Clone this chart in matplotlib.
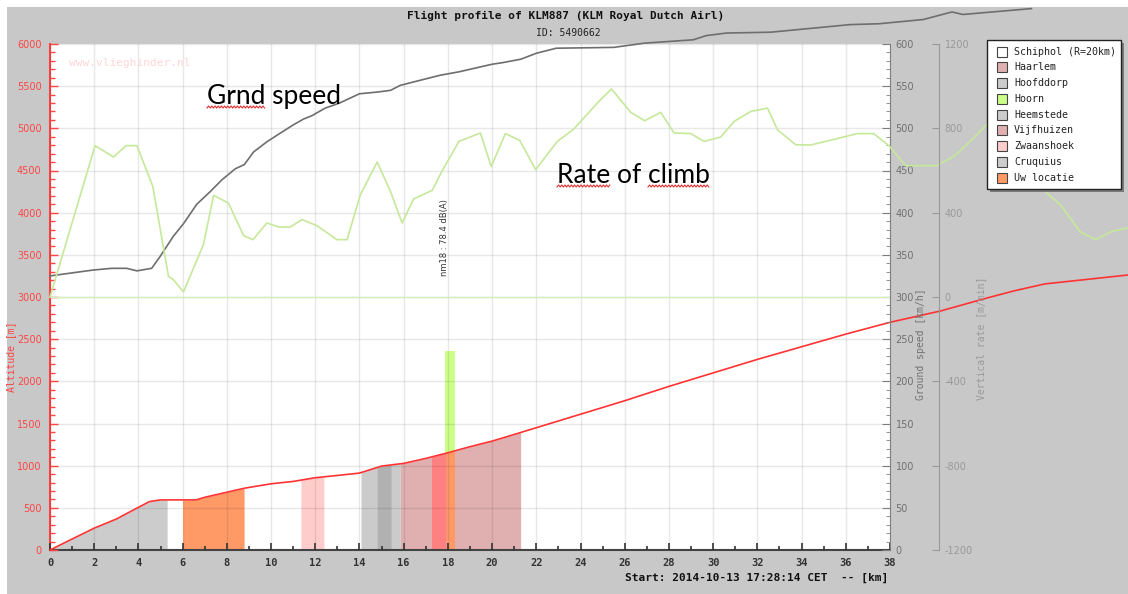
import numpy as np
import matplotlib.pyplot as plt
from matplotlib.patches import Rectangle
from matplotlib.lines import Line2D
from matplotlib.ticker import MultipleLocator

plt.rcParams['axes.unicode_minus'] = False

W, H = 1128, 594

# altitude profile, distance [km] / altitude [m]
alt_km = [0, 1, 2, 3, 4, 4.5, 5, 6.6, 7, 8, 8.8, 10, 11, 12, 13, 14, 15, 16, 17,
          18, 19, 20, 21, 22, 24, 26, 28, 30, 32, 34, 36, 38, 40.3, 42.4, 43.6,
          45, 48.8]
alt_m = [0, 130, 259, 367, 506, 574, 594, 594, 625, 685, 733, 785, 813, 857, 884,
         912, 995, 1027, 1086, 1153, 1225, 1291, 1370, 1450, 1610, 1770, 1940,
         2100, 2260, 2410, 2560, 2700, 2835, 2989, 3072, 3155, 3262]

# ground speed, distance [km] / speed [km/h]
gs_km = [0, 1.96, 2.8, 3.47, 3.93, 4.6, 4.98, 5.58, 6.04, 6.64, 7.25, 7.78, 8.38,
         8.79, 9.21, 9.81, 10.4, 11.0, 11.47, 11.85, 12.45, 13.1, 14.0, 14.8, 15.4,
         15.85, 16.9, 17.66, 18.5, 20.0, 20.5, 21.3, 22.0, 22.9, 25.5, 26.9, 29.1,
         29.7, 30.6, 32.6, 34.6, 36.2, 37.5, 39.5, 40.8, 41.3, 44.4]
gs_kmh = [325, 332, 334, 334, 331, 334, 348, 372, 387, 410, 425, 439, 452, 457, 472,
          484, 494, 504, 511, 515, 524, 530, 541, 543, 545, 551, 558, 563, 567, 576,
          578, 582, 589, 595, 596, 601, 605, 610, 613, 614, 619, 623, 624, 629, 638,
          635, 642]

# vertical rate, distance [km] / rate [m/min]
vr_km = [0, 2.04, 2.87, 3.44, 3.93, 4.65, 5.36, 5.58, 6.04, 6.94, 7.4, 8.07, 8.76,
         9.18, 9.81, 10.34, 10.87, 11.4, 12.08, 12.98, 13.44, 14.04, 14.8, 15.4,
         15.93, 16.45, 17.29, 17.75, 18.5, 19.47, 19.96, 20.6, 21.25, 21.97, 22.95,
         23.7, 24.76, 25.4, 26.27, 26.9, 27.63, 28.23, 28.99, 29.59, 30.34, 30.95,
         31.7, 32.46, 32.91, 33.74, 34.42, 36.53, 37.26, 37.97, 38.7, 40.1, 40.9,
         41.7, 42.4, 43.2, 44.2, 45.1, 45.7, 46.6, 47.3, 48.0, 48.8]
vr_mmin = [0, 718, 664, 718, 718, 525, 98, 82, 24, 248, 482, 446, 291, 272, 351, 332,
           332, 367, 338, 272, 272, 485, 640, 501, 351, 465, 506, 600, 738, 778, 619,
           775, 743, 604, 738, 797, 920, 987, 876, 836, 876, 778, 775, 738, 759, 833,
           880, 896, 793, 722, 721, 775, 775, 716, 623, 623, 667, 746, 820, 880, 650,
           493, 438, 310, 272, 310, 329]

# zones passed under the profile
zone_start = [0, 6.0, 11.35, 14.07, 14.8, 15.85, 17.26, 17.92]
zone_end = [5.3, 8.78, 12.39, 15.43, 15.85, 21.29, 17.92, 18.3]
zone_colors = ['#cccccc', '#ff9966', '#ffcccc', '#999999', '#999999', '#e0b0b0',
               '#ff8080', '#ff9966']
zone_alpha = [1, 1, 1, 0.5, 0.5, 1, 1, 1]

hoorn_span = [17.87, 18.3]
hoorn_top = 2360
noise_label = 'nm18 : 78.4 dB(A)'

legend_labels = ['Schiphol (R=20km)', 'Haarlem', 'Hoofddorp', 'Hoorn', 'Heemstede',
                 'Vijfhuizen', 'Zwaanshoek', 'Cruquius', 'Uw locatie']
legend_colors = ['#ffffff', '#e0b0b0', '#cccccc', '#ccff88', '#cccccc', '#e0b0b0',
                 '#ffcccc', '#cccccc', '#ff9966']


def fx(px):
    return px / W


def fy(py):
    return 1 - py / H


fig = plt.figure(figsize=(W / 100, H / 100), dpi=100)
fig.patch.set_facecolor('white')
fig.add_artist(Rectangle((fx(7), 0), 1, fy(7), transform=fig.transFigure,
                         facecolor='#c8c8c8', edgecolor='none', zorder=-5))

ax = fig.add_axes([fx(50), fy(550), (890 - 50) / W, (550 - 44) / H])
ax.set_facecolor('white')

# zone fills under the altitude line
ax.bar((hoorn_span[0] + hoorn_span[1]) / 2, hoorn_top, width=hoorn_span[1] - hoorn_span[0],
       color='#ccff88', lw=0, zorder=1)
for s, e, c, a in zip(zone_start, zone_end, zone_colors, zone_alpha):
    xs = np.concatenate([[s], [k for k in alt_km if s < k < e], [e]])
    ys = np.interp(xs, alt_km, alt_m)
    ax.fill_between(xs, 0, ys, color=c, alpha=a, lw=0, zorder=1)

ax.plot(alt_km, alt_m, color='#ff3333', lw=1.2, clip_on=False, zorder=3)
ax.text(17.85, 3700, noise_label, rotation=90, ha='center', va='center',
        fontsize=6, color='#333333')

ax.set_xlim(0, 38)
ax.set_ylim(0, 6000)
ax.set_axisbelow(False)
ax.grid(True, which='major', color='black', alpha=0.09, lw=1)
ax.xaxis.set_major_locator(MultipleLocator(2))
ax.xaxis.set_minor_locator(MultipleLocator(1))
ax.yaxis.set_major_locator(MultipleLocator(500))
ax.yaxis.set_minor_locator(MultipleLocator(100))
ax.tick_params(axis='x', which='both', direction='in', color='#333333', width=1.2,
               labelsize=7.5, labelcolor='#333333', pad=6)
ax.tick_params(axis='x', which='major', length=5)
ax.tick_params(axis='x', which='minor', length=3)
ax.tick_params(axis='y', which='both', direction='in', color='#ff4444', width=1,
               labelsize=7, labelcolor='#ff4444', pad=6)
ax.tick_params(axis='y', which='major', length=6)
ax.tick_params(axis='y', which='minor', length=3.5)
for lbl in ax.get_xticklabels():
    lbl.set_fontfamily('DejaVu Sans Mono')
    lbl.set_fontweight('bold')
for side in ['top', 'right']:
    ax.spines[side].set_visible(False)
ax.spines['left'].set_color('#ff4444')
ax.spines['left'].set_linewidth(1.5)
ax.spines['bottom'].set_color('#444444')
ax.spines['bottom'].set_linewidth(1.5)

# ground speed axis
ax2 = ax.twinx()
ax2.plot(gs_km, gs_kmh, color='#6e6e6e', lw=1.2, clip_on=False)
ax2.set_ylim(0, 600)
ax2.yaxis.set_major_locator(MultipleLocator(50))
ax2.yaxis.set_minor_locator(MultipleLocator(10))
ax2.tick_params(axis='y', which='both', direction='in', color='#808080',
                labelsize=7, labelcolor='#707070', pad=4)
ax2.tick_params(axis='y', which='major', length=6)
ax2.tick_params(axis='y', which='minor', length=3)
for side in ['top', 'left', 'bottom']:
    ax2.spines[side].set_visible(False)
ax2.spines['right'].set_color('#808080')

# vertical rate axis
ax3 = ax.twinx()
ax3.axhline(0, color='#d4efb8', lw=1)
ax3.plot(vr_km, vr_mmin, color='#c6e89a', lw=1.2, clip_on=False)
ax3.set_ylim(-1200, 1200)
ax3.set_yticks(range(-1200, 1201, 400))
ax3.spines['right'].set_position(('outward', 49 * 0.72))
ax3.tick_params(axis='y', direction='in', length=5, color='#999999',
                labelsize=7, labelcolor='#999999', pad=4)
for side in ['top', 'left', 'bottom']:
    ax3.spines[side].set_visible(False)
ax3.spines['right'].set_color('#999999')
ax3.set_xlim(0, 38)
ax2.set_xlim(0, 38)

# axis titles and header texts
mono = 'DejaVu Sans Mono'
fig.text(fx(11), fy(357), 'Altitude [m]', rotation=90, ha='center', va='center',
         family=mono, fontsize=7, color='#ff4444')
fig.text(fx(921), fy(344), 'Ground speed [km/h]', rotation=90, ha='center', va='center',
         family=mono, fontsize=7, color='#707070')
fig.text(fx(981), fy(338), 'Vertical rate [m/min]', rotation=90, ha='center', va='center',
         family=mono, fontsize=7, color='#999999')
fig.text(fx(566), fy(16), 'Flight profile of KLM887 (KLM Royal Dutch Airl)', ha='center',
         va='center', family=mono, fontweight='bold', fontsize=8, color='#111111')
fig.text(fx(568), fy(33), 'ID: 5490662', ha='center', va='center', family=mono,
         fontsize=7, color='#222222')
fig.text(fx(888), fy(578), 'Start: 2014-10-13 17:28:14 CET  -- [km]', ha='right',
         va='center', family=mono, fontweight='bold', fontsize=8, color='#111111')
fig.text(fx(69), fy(63), 'www.vlieghinder.nl', ha='left', va='center', family=mono,
         fontsize=8, color='#ffd6d6')

# legend box
lx0, lx1, ly0, ly1 = 987, 1121, 40, 189
fig.add_artist(Rectangle((fx(lx0 + 3), fy(ly1 + 3)), (lx1 - lx0) / W, (ly1 - ly0) / H,
                         transform=fig.transFigure, facecolor='#7a7a7a',
                         edgecolor='none', zorder=9))
fig.add_artist(Rectangle((fx(lx0), fy(ly1)), (lx1 - lx0) / W, (ly1 - ly0) / H,
                         transform=fig.transFigure, facecolor='white',
                         edgecolor='#222222', lw=1, zorder=10))
for i, (lab, col) in enumerate(zip(legend_labels, legend_colors)):
    py = 51.7 + i * 15.75
    fig.add_artist(Rectangle((fx(997), fy(py + 5)), 10 / W, 10 / H,
                             transform=fig.transFigure, facecolor=col,
                             edgecolor='#444444', lw=0.8, zorder=11))
    fig.text(fx(1014), fy(py), lab, ha='left', va='center', family=mono,
             fontsize=7.2, color='#222222', zorder=11)

# overlay notes with spell-check squiggles
renderer = fig.canvas.get_renderer()
NOTE_SIZE = 19


def note(px, py, words, underline):
    fig.text(fx(px), fy(py), words, family='Lato', fontsize=NOTE_SIZE, va='baseline',
             color='black', zorder=12)
    x = px
    for w in words.split(' '):
        tmp = fig.text(0, 0, w, family='Lato', fontsize=NOTE_SIZE)
        wd = tmp.get_window_extent(renderer).width
        tmp.remove()
        if w in underline:
            xs = np.arange(x, x + wd, 1.6)
            ys = H - py - 3 + np.where(np.arange(len(xs)) % 2 == 0, -1.0, 1.0)
            fig.add_artist(Line2D(xs / W, ys / H, transform=fig.transFigure,
                                  color='#e03030', lw=0.8, zorder=12))
        sp = fig.text(0, 0, w + ' ' + w, family='Lato', fontsize=NOTE_SIZE)
        x += sp.get_window_extent(renderer).width - wd
        sp.remove()


note(207, 104, 'Grnd speed', ['Grnd'])
note(557, 183, 'Rate of climb', ['Rate', 'climb'])

fig.savefig('out.png', dpi=100)
